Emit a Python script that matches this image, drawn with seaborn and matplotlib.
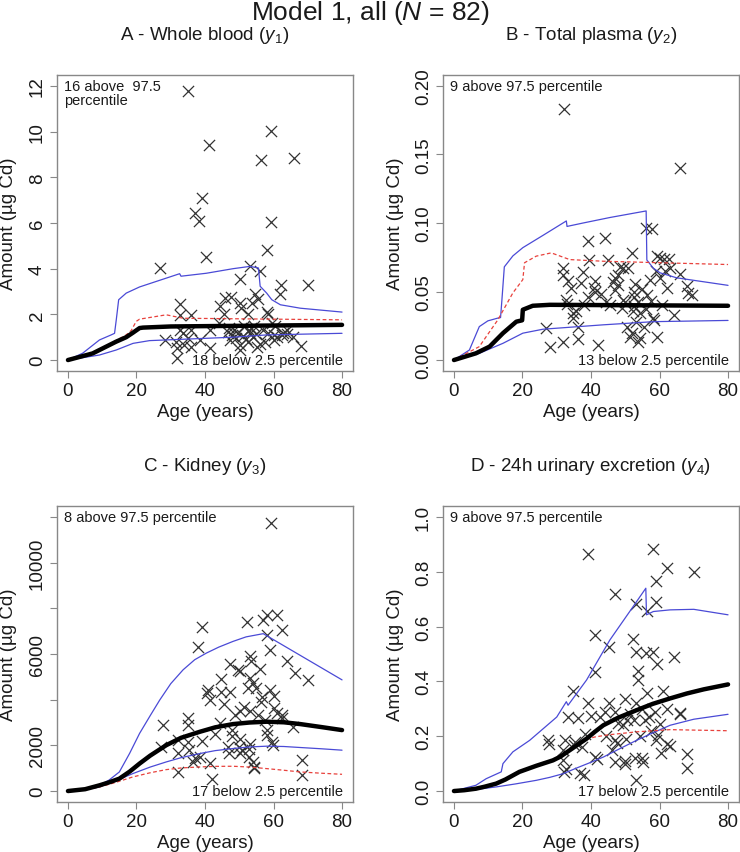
import numpy as np
import pandas as pd
import matplotlib
matplotlib.use("Agg")
import matplotlib.pyplot as plt
import seaborn as sns

# ---- dados ----
# Painel A - sangue total
idade_a = [35.1, 59.2, 41.2, 56.3, 66.0, 39.2, 37.2, 38.2, 59.2, 40.2, 27.0, 58.2, 53.1, 56.1, 70.2, 62.2, 50.2,
           61.9, 32.7, 32.7, 36.0, 45.8, 44.3, 47.5, 50.2, 50.5, 54.6, 55.5, 53.7, 58.0, 58.3, 52.6, 32.7, 33.6,
           36.0, 41.4, 46.7, 49.6, 52.8, 54.2, 60.5, 62.9, 65.8, 28.2, 31.6, 35.0, 38.5, 41.4, 36.0, 47.3, 50.2,
           50.2, 52.6, 55.2, 57.4, 60.0, 31.9, 31.9, 63.8, 59.5, 44.0, 45.5, 47.0, 48.0, 48.5, 49.0, 51.0, 51.5,
           52.0, 53.0, 53.5, 54.0, 55.0, 56.0, 57.0, 58.5, 60.0, 61.0, 62.5, 64.0, 68.0, 34.0]
valor_a = [11.8, 10.04, 9.41, 8.77, 8.84, 7.08, 6.45, 6.08, 6.04, 4.52, 4.03, 4.81, 4.1, 3.9, 3.3, 3.27, 3.55,
           2.9, 2.46, 1.98, 1.98, 2.7, 2.38, 2.75, 2.49, 2.3, 2.9, 2.67, 2.5, 2.1, 2.0, 2.0, 1.32, 1.17,
           1.32, 1.32, 1.24, 1.17, 1.32, 1.47, 1.47, 1.17, 1.03, 0.88, 0.81, 0.95, 0.88, 0.51, 0.59, 0.88, 0.66,
           0.44, 0.81, 0.59, 0.81, 0.88, 0.51, 0.09, 1.32, 1.6, 1.6, 2.0, 1.4, 1.1, 1.3, 0.95, 1.05, 1.5,
           0.9, 1.2, 1.4, 1.0, 1.15, 0.7, 1.3, 1.2, 1.1, 1.0, 1.1, 1.15, 0.62, 0.65]

# Painel B - plasma total
idade_b = [32.0, 66.1, 56.1, 57.7, 39.2, 44.0, 39.5, 45.0, 51.9, 59.2, 60.1, 62.8, 61.4, 31.8, 31.8, 37.7, 48.4,
           49.4, 50.8, 57.2, 61.6, 66.0, 33.3, 37.2, 41.1, 41.0, 47.0, 47.9, 52.8, 62.1, 68.0, 68.4, 69.5, 34.3,
           41.2, 47.0, 52.6, 56.3, 32.8, 39.2, 34.8, 34.8, 49.4, 50.0, 44.4, 52.6, 52.6, 53.8, 52.3, 54.4, 60.6,
           64.1, 58.2, 27.0, 36.2, 50.4, 51.9, 51.3, 54.4, 53.8, 59.2, 28.0, 31.8, 36.2, 42.1, 46.5, 48.0, 43.0,
           45.5, 38.0, 55.0, 56.0, 57.5, 59.0, 60.0, 53.0, 55.5, 49.0, 58.5, 35.5, 33.0, 63.0]
valor_b = [0.183, 0.140, 0.096, 0.0956, 0.087, 0.089, 0.0733, 0.0733, 0.078, 0.0758, 0.0745, 0.074, 0.074, 0.0672,
           0.062, 0.064, 0.068, 0.067, 0.067, 0.0587, 0.0648, 0.063, 0.0575, 0.056, 0.0575, 0.0526, 0.060, 0.0545,
           0.0556, 0.0526, 0.054, 0.049, 0.0477, 0.0526, 0.050, 0.0513, 0.050, 0.0477, 0.044, 0.0457, 0.0342,
           0.031, 0.044, 0.042, 0.042, 0.0457, 0.0391, 0.042, 0.0355, 0.034, 0.0403, 0.033, 0.031, 0.0232, 0.0244,
           0.0244, 0.0195, 0.0171, 0.016, 0.0135, 0.017, 0.0098, 0.0134, 0.015, 0.011, 0.057, 0.062, 0.048, 0.040,
           0.040, 0.052, 0.037, 0.043, 0.065, 0.060, 0.028, 0.024, 0.038, 0.029, 0.036, 0.041, 0.067]

# Painel C - rim
idade_c = [59.2, 39.0, 38.0, 52.2, 57.0, 58.0, 60.9, 62.4, 58.0, 59.0, 63.9, 66.3, 70.2, 53.1, 53.3, 47.3, 49.7,
           50.2, 56.1, 44.8, 53.1, 54.1, 52.6, 59.0, 60.0, 40.9, 40.6, 41.4, 44.8, 47.3, 56.6, 56.3, 60.0, 50.2,
           48.7, 53.1, 55.6, 62.4, 62.6, 27.7, 35.0, 35.0, 44.3, 47.8, 58.0, 58.2, 65.8, 32.1, 27.3, 35.0, 35.3,
           39.0, 50.2, 50.0, 53.1, 52.9, 59.5, 59.8, 46.8, 47.0, 50.3, 52.9, 32.1, 37.0, 36.4, 41.4, 54.1, 54.4,
           68.3, 68.3, 32.1, 41.9, 54.4, 45.5, 51.5, 55.0, 57.5, 48.0, 43.0, 61.0, 38.5, 50.8]
valor_c = [11715, 7185, 6306, 7405, 7506, 7726, 7726, 7066, 6847, 6187, 5704, 5163, 4868, 5893, 5700, 5572, 5308,
           5250, 5352, 4899, 4940, 4723, 4503, 4430, 4165, 4428, 4280, 3989, 4355, 4355, 4135, 3920, 3623, 3500,
           3330, 3500, 3330, 3330, 3185, 2890, 3183, 2890, 2990, 2670, 2670, 2450, 2815, 2230, 1935, 2155, 1790,
           2200, 2300, 1935, 2080, 1860, 2155, 2010, 1935, 1650, 1650, 1500, 1650, 1425, 1280, 1210, 1280, 1060,
           1355, 697, 836, 545, 990, 3800, 3700, 4500, 3100, 2400, 2500, 3400, 1500, 1800]

# Painel D - excrecao urinaria 24h
idade_d = [39.2, 58.2, 62.1, 70.1, 59.0, 47.0, 53.1, 59.0, 56.3, 41.1, 52.2, 45.3, 53.1, 56.1, 58.2, 64.3, 59.2,
           41.1, 53.8, 53.8, 34.8, 56.3, 61.1, 39.2, 45.3, 49.9, 53.1, 33.3, 36.2, 40.1, 44.0, 47.0, 50.4, 55.8,
           62.1, 66.0, 66.0, 58.6, 49.4, 60.2, 27.4, 27.7, 32.3, 35.2, 35.0, 38.2, 37.3, 47.0, 47.6, 50.2, 54.3,
           59.5, 59.0, 62.1, 63.0, 68.0, 68.0, 31.8, 31.8, 32.8, 32.0, 36.7, 38.0, 41.1, 41.8, 47.0, 49.9, 50.0,
           52.8, 54.8, 55.2, 53.1, 48.0, 51.5, 52.5, 55.0, 57.0, 60.5, 44.5, 46.0, 57.5, 42.5]
valor_d = [0.866, 0.883, 0.813, 0.799, 0.765, 0.719, 0.683, 0.688, 0.658, 0.569, 0.555, 0.527, 0.508, 0.503,
           0.509, 0.488, 0.463, 0.435, 0.437, 0.405, 0.366, 0.358, 0.366, 0.323, 0.323, 0.334, 0.32, 0.271, 0.266,
           0.273, 0.29, 0.29, 0.26, 0.26, 0.30, 0.285, 0.28, 0.29, 0.24, 0.245, 0.185, 0.172, 0.185, 0.18, 0.168,
           0.207, 0.16, 0.185, 0.175, 0.19, 0.202, 0.205, 0.185, 0.171, 0.165, 0.134, 0.0855, 0.149, 0.112, 0.08,
           0.068, 0.067, 0.057, 0.124, 0.118, 0.106, 0.109, 0.098, 0.12, 0.12, 0.105, 0.039, 0.25, 0.28, 0.26,
           0.30, 0.27, 0.14, 0.20, 0.15, 0.22, 0.27]

# curvas: percentil 97.5 (sup), 2.5 (inf), mediana e media (tracejada)
sup_a_x = [0, 4.3, 9.2, 12.6, 13.6, 14.1, 14.8, 17, 20.9, 32.6, 33, 40.4, 48.2, 53.1, 55.6, 56.1, 58, 59.5, 62, 67.8, 80]
sup_a_y = [0, 0.3, 0.88, 1.1, 1.17, 1.76, 2.64, 2.93, 3.2, 3.78, 3.67, 3.8, 4.0, 4.1, 4.03, 3.23, 2.93, 2.64, 2.42, 2.27, 2.1]
inf_a_x = [0, 9.2, 14.1, 19, 23.8, 33.6, 48.2, 58, 80]
inf_a_y = [0, 0.22, 0.44, 0.73, 0.85, 0.91, 1.0, 1.1, 1.17]
med_a_x = [0, 3, 7.2, 10, 14, 17, 19, 20.9, 21.9, 30, 80]
med_a_y = [0, 0.12, 0.29, 0.5, 0.8, 1.0, 1.2, 1.4, 1.42, 1.47, 1.54]
mean_a_x = [0, 3, 7.2, 10, 14, 17, 18.5, 19.9, 20.9, 28.7, 33.6, 80]
mean_a_y = [0, 0.12, 0.29, 0.5, 0.85, 1.1, 1.3, 1.69, 1.79, 1.98, 1.83, 1.76]

sup_b_x = [0, 4.5, 7.4, 9.9, 12.8, 13.6, 14.0, 14.7, 17.2, 20.1, 26, 32.8, 33.0, 37.7, 45.5, 56.1, 56.3, 58.2, 60.2, 65, 80]
sup_b_y = [0, 0.0073, 0.0244, 0.0286, 0.0306, 0.031, 0.044, 0.068, 0.076, 0.082, 0.091, 0.1015, 0.0975, 0.1,
           0.104, 0.1088, 0.073, 0.067, 0.0636, 0.060, 0.0545]
inf_b_x = [0, 7.4, 14.3, 20.1, 26, 43.6, 58.2, 80]
inf_b_y = [0, 0.0049, 0.0122, 0.0196, 0.0225, 0.0257, 0.028, 0.0289]
med_b_x = [0, 6.4, 10.4, 14.3, 18.2, 19.9, 20.1, 23, 28, 80]
med_b_y = [0, 0.0049, 0.0098, 0.0196, 0.028, 0.029, 0.0367, 0.0396, 0.0403, 0.0396]
mean_b_x = [0, 7.4, 12.8, 17.2, 20.1, 20.6, 24, 28.4, 33.8, 43.6, 80]
mean_b_y = [0, 0.0098, 0.0293, 0.049, 0.0587, 0.071, 0.0758, 0.0782, 0.0733, 0.0721, 0.0697]

sup_c_x = [0, 5, 9.2, 12, 15, 18, 20.9, 24, 26.8, 30, 33.6, 37, 40.4, 44, 48.2, 52, 57, 80]
sup_c_y = [0, 80, 250, 480, 836, 1650, 2522, 3300, 3988, 4700, 5307, 5750, 6040, 6300, 6553, 6750, 6890, 4867]
inf_c_x = [0, 5, 9.2, 14, 18.9, 24, 28.7, 33, 38.5, 43, 48.2, 53, 58, 63, 67.8, 74, 80]
inf_c_y = [0, 60, 176, 450, 762, 1050, 1275, 1460, 1642, 1770, 1862, 1930, 1964, 1950, 1906, 1850, 1789]
med_c_x = [0, 5, 9.2, 12, 15, 18, 20.9, 24, 28.7, 33, 38.5, 43, 48.2, 53, 58, 63, 67.8, 74, 80]
med_c_y = [0, 80, 250, 380, 542, 850, 1202, 1550, 2008, 2330, 2595, 2790, 2932, 3000, 3035, 3010, 2932, 2800, 2668]
mean_c_x = [0, 5, 9.2, 14, 18.9, 24, 28.7, 33, 38.5, 43, 48.2, 53, 58, 63, 67.8, 74, 80]
mean_c_y = [0, 60, 176, 380, 616, 800, 938, 1010, 1056, 1080, 1085, 1050, 982, 910, 836, 780, 733]

sup_d_x = [0, 6.4, 9.4, 13.8, 14.3, 17.2, 22.1, 30, 32.8, 33.3, 38.7, 45.5, 52.3, 56, 56.2, 58.2, 63.1, 70, 80]
sup_d_y = [0, 0.021, 0.045, 0.07, 0.1, 0.143, 0.185, 0.27, 0.326, 0.313, 0.405, 0.551, 0.673, 0.74, 0.643,
           0.655, 0.661, 0.663, 0.643]
inf_d_x = [0, 6, 12.3, 18, 24, 28, 31.8, 36, 40, 43.6, 48, 53.3, 58, 63.1, 70, 80]
inf_d_y = [0, 0.005, 0.015, 0.026, 0.039, 0.05, 0.063, 0.085, 0.105, 0.124, 0.152, 0.185, 0.212, 0.24, 0.262, 0.28]
med_d_x = [0, 3, 6.4, 9, 12.3, 15, 19.1, 24, 28.9, 31, 33.8, 36, 38.7, 41, 43.6, 48, 53.3, 58, 63.1, 68, 72.9, 80]
med_d_y = [0, 0.003, 0.0085, 0.016, 0.027, 0.042, 0.07, 0.092, 0.112, 0.125, 0.149, 0.168, 0.191, 0.215, 0.24,
           0.268, 0.295, 0.318, 0.338, 0.356, 0.371, 0.389]
mean_d_x = [0, 6.4, 12.3, 19.1, 28.9, 33.8, 37.7, 41, 45, 53.3, 63.1, 80]
mean_d_y = [0, 0.0085, 0.027, 0.07, 0.115, 0.15, 0.185, 0.197, 0.205, 0.216, 0.224, 0.22]

titulos = ["A - Whole blood ($y_1$)", "B - Total plasma ($y_2$)", "C - Kidney ($y_3$)",
           "D - 24h urinary excretion ($y_4$)"]
texto_acima = ["16 above  97.5\npercentile", "9 above 97.5 percentile", "8 above 97.5 percentile",
               "9 above 97.5 percentile"]
texto_abaixo = ["18 below 2.5 percentile", "13 below 2.5 percentile", "17 below 2.5 percentile",
                "17 below 2.5 percentile"]
yticks = [[0, 2, 4, 6, 8, 10, 12], [0, 0.05, 0.10, 0.15, 0.20],
          [0, 2000, 4000, 6000, 8000, 10000, 12000], [0, 0.2, 0.4, 0.6, 0.8, 1.0]]
ytick_labels = [["0", "2", "4", "6", "8", "10", "12"], ["0.00", "0.05", "0.10", "0.15", "0.20"],
                ["0", "2000", "", "6000", "", "10000", ""], ["0.0", "0.2", "0.4", "0.6", "0.8", "1.0"]]
ylims = [(-0.48, 12.48), (-0.008, 0.208), (-480, 12480), (-0.04, 1.04)]

pontos = [(idade_a, valor_a), (idade_b, valor_b), (idade_c, valor_c), (idade_d, valor_d)]
curvas = [
    [(sup_a_x, sup_a_y), (inf_a_x, inf_a_y), (med_a_x, med_a_y), (mean_a_x, mean_a_y)],
    [(sup_b_x, sup_b_y), (inf_b_x, inf_b_y), (med_b_x, med_b_y), (mean_b_x, mean_b_y)],
    [(sup_c_x, sup_c_y), (inf_c_x, inf_c_y), (med_c_x, med_c_y), (mean_c_x, mean_c_y)],
    [(sup_d_x, sup_d_y), (inf_d_x, inf_d_y), (med_d_x, med_d_y), (mean_d_x, mean_d_y)],
]

sns.set_style("white")
plt.rcParams['font.family'] = ['Liberation Sans', 'DejaVu Sans']
plt.rcParams['mathtext.fontset'] = 'custom'
plt.rcParams['mathtext.rm'] = 'Liberation Sans'
plt.rcParams['mathtext.it'] = 'Liberation Sans:italic'

W, H = 740, 853
fig = plt.figure(figsize=(7.4, 8.53), dpi=100)

# posicoes das caixas em pixels (esquerda, topo)
caixas = [(57, 76), (443, 76), (57, 507), (443, 507)]
lado = 296
cor_txt = "#1a1a1a"
azul = "#4a4ad6"
vermelho = "#e8413c"

for i in range(4):
    x0, y0 = caixas[i]
    ax = fig.add_axes([x0 / W, 1 - (y0 + lado) / H, lado / W, lado / H])

    df = pd.DataFrame({"idade": pontos[i][0], "valor": pontos[i][1]})
    sns.scatterplot(data=df, x="idade", y="valor", marker="x", color="#333333", s=65,
                    linewidth=0.9, ax=ax, zorder=2)

    sup, inf, med, media = curvas[i]
    sns.lineplot(x=sup[0], y=sup[1], color=azul, lw=0.9, estimator=None, sort=False, ax=ax, zorder=3)
    sns.lineplot(x=inf[0], y=inf[1], color=azul, lw=0.9, estimator=None, sort=False, ax=ax, zorder=3)
    sns.lineplot(x=media[0], y=media[1], color=vermelho, lw=0.9, linestyle=(0, (3, 2)),
                 estimator=None, sort=False, ax=ax, zorder=3)
    sns.lineplot(x=med[0], y=med[1], color="black", lw=3.2, estimator=None, sort=False, ax=ax, zorder=4)

    ax.set_xlim(-3.2, 83.2)
    ax.set_ylim(*ylims[i])
    ax.set_xticks([0, 20, 40, 60, 80])
    ax.set_xticklabels(["0", "20", "40", "60", "80"])
    ax.set_yticks(yticks[i])
    ax.set_yticklabels(ytick_labels[i], rotation=90, va="center")
    ax.tick_params(axis="both", direction="out", length=5, width=0.8, color="#888888",
                   labelsize=13.5, labelcolor=cor_txt, pad=3, left=True, bottom=True)

    for sp in ax.spines.values():
        sp.set_color("#888888")
        sp.set_linewidth(1.0)

    ax.set_xlabel("Age (years)", fontsize=13.5, color=cor_txt)
    ax.set_ylabel("Amount (µg Cd)", fontsize=13.5, color=cor_txt)
    ax.xaxis.set_label_coords(0.5, -41 / lado)
    ax.yaxis.set_label_coords(-48 / lado, 0.5)
    ax.xaxis.label.set_va("center")
    ax.yaxis.label.set_va("center")

    ax.text(0.025, 0.985, texto_acima[i], transform=ax.transAxes, ha="left", va="top",
            fontsize=10.5, color=cor_txt, linespacing=1.0)
    ax.text(0.965, 0.012, texto_abaixo[i], transform=ax.transAxes, ha="right", va="bottom",
            fontsize=10.5, color=cor_txt)

    # titulo do painel
    ty = 35 if y0 < 200 else 467
    fig.text((x0 + lado / 2) / W, 1 - ty / H, titulos[i], ha="center", va="center",
             fontsize=13.5, color=cor_txt)

fig.text(0.5, 1 - 13 / H, "Model 1, all ($N$ = 82)", ha="center", va="center", fontsize=19, color=cor_txt)

fig.savefig("out.png", dpi=100)
